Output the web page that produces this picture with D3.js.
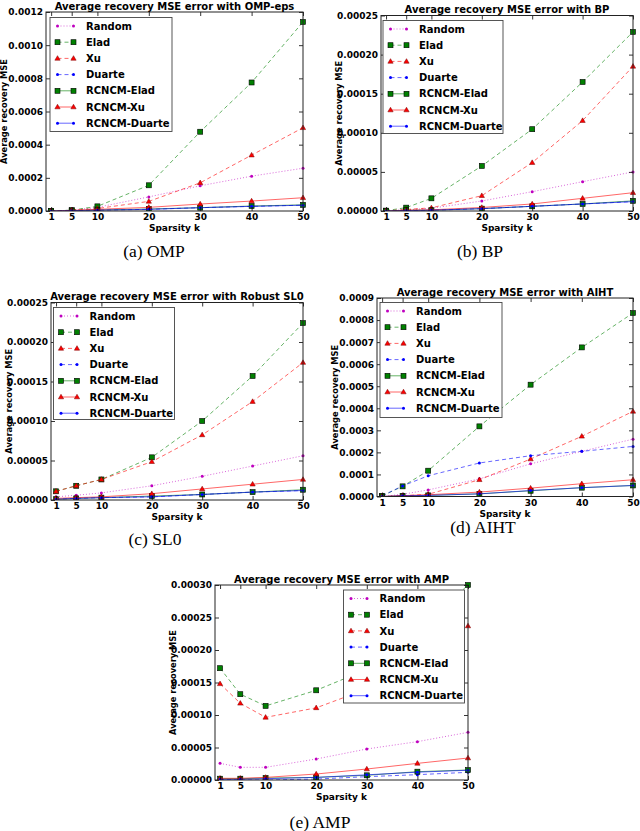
<!DOCTYPE html>
<html lang="en">
<head>
<meta charset="UTF-8">
<title>Average recovery MSE</title>
<style>
    body { margin: 0; background: #fff; }
    svg text { font-family: "DejaVu Sans", sans-serif; fill: #000; }
</style>
</head>
<body>
<script src="https://cdn.jsdelivr.net/npm/d3@7/dist/d3.min.js"></script>
<script>
    // sparsity levels on the x axis
    const sparsity = [1, 5, 10, 20, 30, 40, 50];
    const seriesNames = ["Random", "Elad", "Xu", "Duarte", "RCNCM-Elad", "RCNCM-Xu", "RCNCM-Duarte"];

    // one row per series, in the order of seriesNames
    const ompValues = [
        [0, 0.000005, 0.000022, 0.000085, 0.000152, 0.00021, 0.000258],
        [0, 0.000005, 0.000028, 0.000155, 0.000478, 0.000775, 0.00114],
        [0, 0.000003, 0.000015, 0.000058, 0.00017, 0.000337, 0.000502],
        [0, 0.000002, 0.000005, 0.00001, 0.00002, 0.000028, 0.000035],
        [0, 0.000002, 0.000006, 0.000012, 0.00002, 0.00003, 0.000037],
        [0, 0.000004, 0.00001, 0.000022, 0.000042, 0.00006, 0.00008],
        [0, 0.000002, 0.000005, 0.00001, 0.00002, 0.000028, 0.000035]
    ];
    const bpValues = [
        [0.0000005, 0.0000015, 0.0000035, 0.0000128, 0.0000247, 0.0000375, 0.00005],
        [0.0000005, 0.0000043, 0.0000162, 0.0000576, 0.0001046, 0.000165, 0.000229],
        [0, 0.000002, 0.000004, 0.0000196, 0.0000619, 0.0001156, 0.000185],
        [0, 0.0000005, 0.000001, 0.000003, 0.000006, 0.000009, 0.000012],
        [0, 0.000001, 0.000001, 0.000003, 0.000006, 0.000009, 0.000013],
        [0, 0.000001, 0.0000015, 0.0000045, 0.000009, 0.0000162, 0.0000234],
        [0, 0.0000005, 0.000001, 0.000003, 0.000006, 0.000009, 0.000012]
    ];
    const sl0Values = [
        [0.000004, 0.000006, 0.000009, 0.000018, 0.00003, 0.000043, 0.000056],
        [0.000011, 0.000018, 0.000026, 0.000054, 0.0001, 0.000157, 0.000224],
        [0.000011, 0.000018, 0.000026, 0.0000485, 0.0000824, 0.0001246, 0.000174],
        [0.000001, 0.000002, 0.000003, 0.000004, 0.000007, 0.00001, 0.000012],
        [0.000001, 0.000002, 0.000003, 0.000005, 0.000007, 0.00001, 0.000013],
        [0.000002, 0.000003, 0.000004, 0.000008, 0.000014, 0.00002, 0.000026],
        [0.000001, 0.000002, 0.000003, 0.000004, 0.000007, 0.00001, 0.000012]
    ];
    const aihtValues = [
        [0, 0.00001, 0.00003, 0.00008, 0.000148, 0.000205, 0.00026],
        [0.000003, 0.000046, 0.000117, 0.000318, 0.000507, 0.000676, 0.000832],
        [0, 0.000003, 0.00001, 0.000076, 0.00017, 0.000273, 0.000386],
        [0.000003, 0.000048, 0.000094, 0.000152, 0.000185, 0.000205, 0.000227],
        [0, 0.000003, 0.000005, 0.000012, 0.000026, 0.00004, 0.00005],
        [0, 0.000004, 0.000008, 0.00002, 0.000038, 0.000058, 0.000076],
        [0, 0.000003, 0.000005, 0.000012, 0.000027, 0.00004, 0.00005]
    ];
    const ampValues = [
        [0.0000256, 0.0000195, 0.0000195, 0.0000323, 0.0000477, 0.000059, 0.0000733],
        [0.000172, 0.000132, 0.000114, 0.000138, 0.00017, 0.000228, 0.0003],
        [0.000148, 0.000118, 0.0000964, 0.000111, 0.00014, 0.000188, 0.000237],
        [0.000001, 0, 0, 0.0000015, 0.0000051, 0.0000082, 0.0000118],
        [0.000002, 0.000002, 0.000003, 0.000004, 0.0000072, 0.0000128, 0.0000154],
        [0.0000026, 0.0000026, 0.000004, 0.0000092, 0.0000169, 0.0000256, 0.0000338],
        [0.000001, 0.000001, 0.000002, 0.000004, 0.000008, 0.000012, 0.000015]
    ];

    const ompTicks = [0, 0.0002, 0.0004, 0.0006, 0.0008, 0.0010, 0.0012];
    const bpTicks = [0, 0.00005, 0.0001, 0.00015, 0.0002, 0.00025];
    const aihtTicks = [0, 0.0001, 0.0002, 0.0003, 0.0004, 0.0005, 0.0006, 0.0007, 0.0008, 0.0009];
    const ampTicks = [0, 0.00005, 0.0001, 0.00015, 0.0002, 0.00025, 0.0003];

    // line style per series
    const styles = [
        {color: "#bf00bf", dash: "1,2", marker: "dot"},
        {color: "#008000", dash: "4,3", marker: "square"},
        {color: "#ff0000", dash: "4,3", marker: "triangle"},
        {color: "#0000ff", dash: "4,3", marker: "dot"},
        {color: "#008000", dash: null, marker: "square"},
        {color: "#ff0000", dash: null, marker: "triangle"},
        {color: "#0000ff", dash: null, marker: "dot"}
    ];

    const panels = [
        {title: "Average recovery MSE error with OMP-eps", caption: "(a) OMP", values: ompValues, ticks: ompTicks, fmt: ".4f",
            left: 46, right: 303, top: 12, bottom: 211, legend: [50, 17.5, 122, 114], cap: [154, 257]},
        {title: "Average recovery MSE error with BP", caption: "(b) BP", values: bpValues, ticks: bpTicks, fmt: ".5f",
            left: 381, right: 633, top: 15.5, bottom: 211, legend: [383, 20.5, 120, 113], cap: [480, 257]},
        {title: "Average recovery MSE error with Robust SL0", caption: "(c) SL0", values: sl0Values, ticks: bpTicks, fmt: ".5f",
            left: 51, right: 303, top: 302.5, bottom: 500, legend: [53.5, 307.5, 121, 112], cap: [155, 545]},
        {title: "Average recovery MSE error with AIHT", caption: "(d) AIHT", values: aihtValues, ticks: aihtTicks, fmt: ".4f",
            left: 377, right: 633, top: 298, bottom: 496.5, legend: [380, 302.5, 122, 115], cap: [483, 533]},
        {title: "Average recovery MSE error with AMP", caption: "(e) AMP", values: ampValues, ticks: ampTicks, fmt: ".5f",
            left: 215, right: 468, top: 585, bottom: 780, legend: [343.5, 590, 121, 113], cap: [320, 828]}
    ];

    let svg = d3.select("body")
        .append("svg")
        .attr("width", 640)
        .attr("height", 831);

    svg.append("rect").attr("width", 640).attr("height", 831).attr("fill", "#fff");

    function drawMarker(g, st, px, py) {
        if (st.marker === "square") {
            g.append("rect")
                .attr("x", px - 2.5).attr("y", py - 2.5)
                .attr("width", 5).attr("height", 5)
                .attr("fill", st.color)
                .attr("stroke", "#000").attr("stroke-width", 0.6);
        } else if (st.marker === "triangle") {
            g.append("path")
                .attr("d", d3.symbol().type(d3.symbolTriangle).size(12)())
                .attr("transform", "translate(" + px + "," + (py + 0.3) + ")")
                .attr("fill", st.color)
                .attr("stroke", "#700").attr("stroke-width", 0.5);
        } else {
            g.append("circle")
                .attr("cx", px).attr("cy", py).attr("r", 1.5)
                .attr("fill", st.color);
        }
    }

    panels.forEach(function (p, pi) {
        let x = d3.scaleLinear().domain([0, 50]).range([p.left, p.right]);
        let y = d3.scaleLinear().domain([0, p.ticks[p.ticks.length - 1]]).range([p.bottom, p.top]);
        let g = svg.append("g");

        g.append("clipPath").attr("id", "clip" + pi)
            .append("rect")
            .attr("x", p.left).attr("y", p.top - 3)
            .attr("width", p.right - p.left + 3).attr("height", p.bottom - p.top + 3);

        let plot = g.append("g").attr("clip-path", "url(#clip" + pi + ")");
        let line = d3.line().x(d => x(d[0])).y(d => y(d[1]));

        p.values.forEach(function (vals, i) {
            let st = styles[i];
            let pts = sparsity.map((k, j) => [k, vals[j]]);
            plot.append("path")
                .datum(pts)
                .attr("d", line)
                .attr("fill", "none")
                .attr("stroke", st.color)
                .attr("stroke-opacity", 0.6)
                .attr("stroke-width", 1)
                .attr("stroke-dasharray", st.dash);
            pts.forEach(d => drawMarker(plot, st, x(d[0]), y(d[1])));
        });

        // axes, ticks inside on all four sides
        let xb = g.append("g").attr("transform", "translate(0," + p.bottom + ")")
            .call(d3.axisBottom(x).tickValues(sparsity).tickSize(-4).tickPadding(3));
        let xt = g.append("g").attr("transform", "translate(0," + p.top + ")")
            .call(d3.axisTop(x).tickValues(sparsity).tickSize(-4).tickFormat(""));
        let yl = g.append("g").attr("transform", "translate(" + p.left + ",0)")
            .call(d3.axisLeft(y).tickValues(p.ticks).tickSize(-4).tickPadding(3).tickFormat(d3.format(p.fmt)));
        let yr = g.append("g").attr("transform", "translate(" + p.right + ",0)")
            .call(d3.axisRight(y).tickValues(p.ticks).tickSize(-4).tickFormat(""));
        [xb, xt, yl, yr].forEach(function (a) {
            a.select(".domain").remove();
            a.selectAll("line").attr("stroke", "#000").attr("stroke-width", 0.8);
            a.selectAll("text")
                .style("font-family", "DejaVu Sans")
                .style("font-weight", "bold")
                .style("font-size", "9px")
                .attr("fill", "#000");
        });

        g.append("rect")
            .attr("x", p.left).attr("y", p.top)
            .attr("width", p.right - p.left).attr("height", p.bottom - p.top)
            .attr("fill", "none")
            .attr("stroke", "#222").attr("stroke-width", 1);

        // labels
        g.append("text")
            .attr("x", (p.left + p.right) / 2).attr("y", p.top - 2.5)
            .attr("text-anchor", "middle")
            .style("font-size", "10px").style("font-weight", "bold")
            .text(p.title);

        g.append("text")
            .attr("x", (p.left + p.right) / 2).attr("y", p.bottom + 20)
            .attr("text-anchor", "middle")
            .style("font-size", "9px").style("font-weight", "bold")
            .text("Sparsity k");

        g.append("text")
            .attr("transform", "translate(" + (p.left - 42) + "," + ((p.top + p.bottom) / 2) + ") rotate(-90)")
            .attr("text-anchor", "middle")
            .attr("dy", "0.35em")
            .style("font-size", "8.3px").style("font-weight", "bold")
            .text("Average recovery MSE");

        g.append("text")
            .attr("x", p.cap[0]).attr("y", p.cap[1])
            .attr("text-anchor", "middle")
            .style("font-family", "Liberation Serif, serif")
            .style("font-size", "17.5px")
            .text(p.caption);

        // legend
        let [lx, ly, lw, lh] = p.legend;
        let lg = g.append("g");
        lg.append("rect")
            .attr("x", lx).attr("y", ly).attr("width", lw).attr("height", lh)
            .attr("fill", "#fff")
            .attr("stroke", "#444").attr("stroke-width", 0.9);
        seriesNames.forEach(function (name, i) {
            let st = styles[i];
            let cy = ly + 8.5 + i * 16.2;
            lg.append("line")
                .attr("x1", lx + 7.5).attr("x2", lx + 23.5)
                .attr("y1", cy).attr("y2", cy)
                .attr("stroke", st.color)
                .attr("stroke-opacity", 0.6)
                .attr("stroke-dasharray", st.dash);
            drawMarker(lg, st, lx + 7.5, cy);
            drawMarker(lg, st, lx + 23.5, cy);
            lg.append("text")
                .attr("x", lx + 36).attr("y", cy)
                .attr("dy", "0.36em")
                .style("font-size", "10px").style("font-weight", "bold")
                .text(name);
        });
    });
</script>
</body>
</html>
